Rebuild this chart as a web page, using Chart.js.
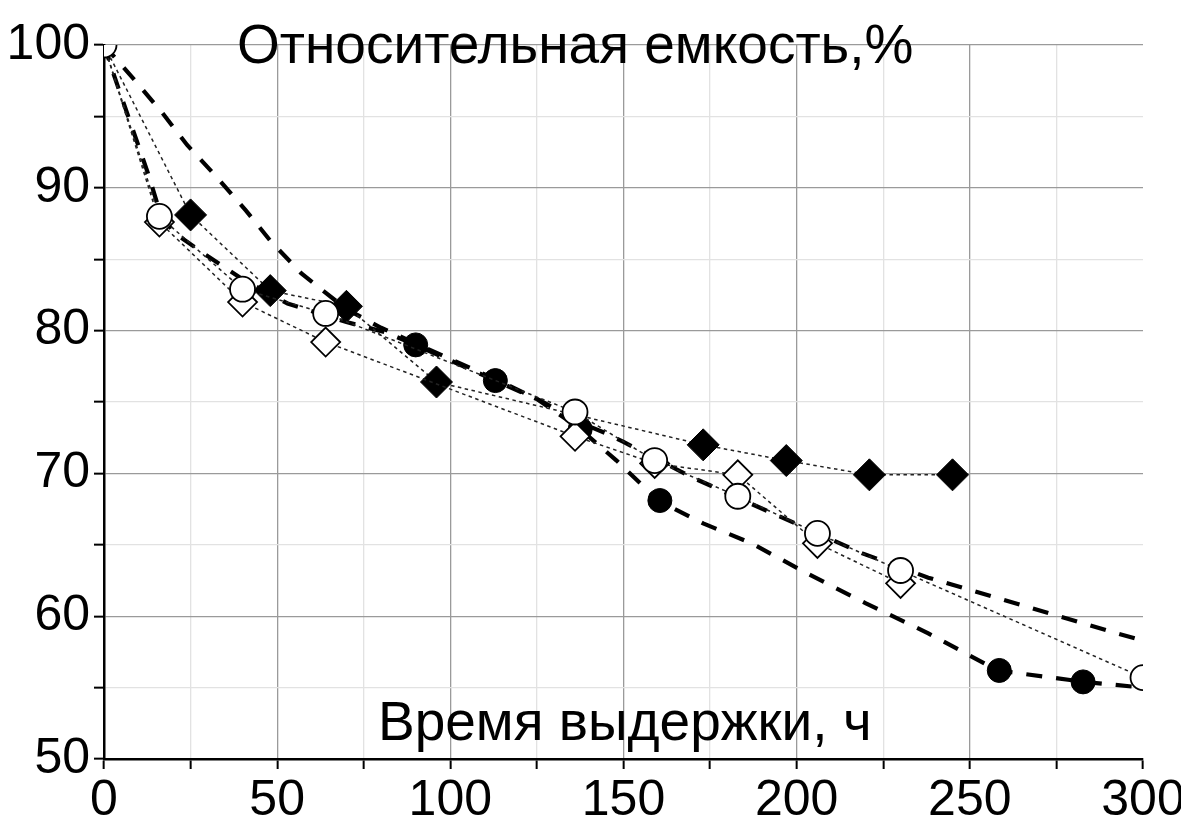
<!DOCTYPE html>
<html>
<head>
<meta charset="utf-8">
<script src="https://cdn.jsdelivr.net/npm/chart.js@4.4.1/dist/chart.umd.min.js"></script>
<style>
  html, body { margin: 0; padding: 0; background: #fff; }
  #wrap { width: 1181px; height: 818px; position: relative; }
</style>
</head>
<body>
<div id="wrap"><canvas id="c" width="1181" height="818"></canvas></div>
<script>
// ---- Data ----
const yTitle = "Относительная емкость,%";
const xTitle = "Время выдержки, ч";

const filledDiamondX = [0, 25, 48, 70, 96, 173, 197, 221, 245];
const filledDiamondY = [100, 88.1, 82.8, 81.7, 76.4, 72.0, 70.9, 69.9, 69.9];

const openCircleX = [0, 16, 40, 64, 136, 159, 183, 206, 230, 300];
const openCircleY = [100, 88.0, 82.9, 81.2, 74.3, 70.9, 68.4, 65.8, 63.2, 55.7];

const openDiamondX = [0, 16, 40, 64, 136, 159, 183, 206, 230];
const openDiamondY = [100, 87.6, 82.0, 79.2, 72.6, 70.7, 69.9, 65.1, 62.3];

const filledCircleX = [90, 113, 137.5, 160.5, 258.5, 282.7];
const filledCircleY = [79.0, 76.5, 73.1, 68.1, 56.2, 55.4];

const fitLowX = [0, 3, 10, 13, 16, 20, 30, 40, 53, 70, 81, 90, 113, 125, 137, 148, 160, 173, 187, 203, 220, 238, 258, 283, 300];
const fitLowY = [100, 97.8, 92.9, 90.8, 88.4, 86.9, 85.2, 83.6, 81.9, 80.6, 79.9, 79.0, 76.5, 75.2, 73.2, 70.9, 68.1, 66.5, 65.1, 63.0, 60.9, 58.8, 56.2, 55.4, 55.0];

const fitHighX = [0, 9, 17, 24, 32, 41, 48, 57, 70, 80, 90, 113, 126, 137, 145, 150, 170, 194, 219, 238, 245, 273, 291, 300];
const fitHighY = [100, 97.5, 95.2, 93.0, 90.9, 88.4, 86.3, 84.0, 81.5, 80.2, 79.1, 76.6, 75.1, 73.6, 72.8, 72.2, 69.7, 67.1, 64.4, 62.7, 62.2, 60.2, 58.9, 58.3];

const xTicksMajor = [0, 50, 100, 150, 200, 250, 300];
const yTicksMajor = [50, 60, 70, 80, 90, 100];

// ---- helpers ----
const pts = (xs, ys) => xs.map((x, i) => ({ x: x, y: ys[i] }));
const FONT = "'Liberation Sans', Arial, sans-serif";

const titlesPlugin = {
  id: 'titles',
  afterDraw(chart) {
    const ctx = chart.ctx;
    ctx.save();
    ctx.fillStyle = '#000';
    ctx.font = "55px " + FONT;
    ctx.textBaseline = 'alphabetic';
    ctx.textAlign = 'left';
    ctx.fillText(yTitle, 237, 63);
    ctx.fillText(xTitle, 378, 740);
    ctx.restore();
  }
};

const dotted = { borderColor: '#222', borderWidth: 1.5, borderDash: [3.5, 3.5] };
const heavy = { borderColor: '#000', borderWidth: 4.2, borderDash: [16, 14], pointRadius: 0 };

const chart = new Chart(document.getElementById('c'), {
  type: 'scatter',
  data: {
    datasets: [
      Object.assign({ label: 'fitLow', data: pts(fitLowX, fitLowY), showLine: true, order: 6 }, heavy),
      Object.assign({ label: 'fitHigh', data: pts(fitHighX, fitHighY), showLine: true, order: 5 }, heavy),
      Object.assign({
        label: 'filledCircle', data: pts(filledCircleX, filledCircleY), showLine: false,
        pointStyle: 'circle', pointRadius: 12, pointBackgroundColor: '#000', pointBorderColor: '#000', order: 4
      }),
      Object.assign({
        label: 'filledDiamond', data: pts(filledDiamondX, filledDiamondY), showLine: true,
        pointStyle: 'rectRot', pointRadius: c => (c.raw && c.raw.x === 0 ? 0 : 16),
        pointBackgroundColor: '#000', pointBorderColor: '#000', pointBorderWidth: 1, order: 3
      }, dotted),
      Object.assign({
        label: 'openDiamond', data: pts(openDiamondX, openDiamondY), showLine: true,
        pointStyle: 'rectRot', pointRadius: c => (c.raw && c.raw.x === 0 ? 0 : 14.5),
        pointBackgroundColor: '#fff', pointBorderColor: '#000', pointBorderWidth: 1.8, order: 2
      }, dotted),
      Object.assign({
        label: 'openCircle', data: pts(openCircleX, openCircleY), showLine: true,
        pointStyle: 'circle', pointRadius: 12.5,
        pointBackgroundColor: '#fff', pointBorderColor: '#000', pointBorderWidth: 1.8, order: 1
      }, dotted)
    ]
  },
  options: {
    responsive: false,
    animation: false,
    clip: 0,
    layout: { padding: { left: 0, top: 45, right: 38, bottom: 0 } },
    plugins: { legend: { display: false }, tooltip: { enabled: false } },
    elements: { line: { tension: 0 }, point: { hoverRadius: 0 } },
    scales: {
      x: {
        type: 'linear', min: 0, max: 300,
        afterFit: s => { s.height = 59; s.paddingRight = 0; s.paddingLeft = 0; },
        ticks: {
          stepSize: 25, autoSkip: false, maxRotation: 0, padding: 2,
          color: '#000', font: { family: FONT, size: 50 },
          callback: v => (xTicksMajor.includes(v) ? String(v) : '')
        },
        grid: {
          color: c => (c.tick && c.tick.value === 300 ? 'rgba(0,0,0,0)' : (c.tick && c.tick.value % 50 === 0 ? '#9a9a9a' : '#e2e2e2')),
          lineWidth: 1.3,
          drawTicks: true, tickLength: 10, tickColor: '#000', tickWidth: 2
        },
        border: { display: true, color: '#000', width: 2.5 }
      },
      y: {
        type: 'linear', min: 50, max: 100,
        afterFit: s => { s.width = 104; s.paddingTop = 0; s.paddingBottom = 0; },
        ticks: {
          stepSize: 5, autoSkip: false, padding: 4,
          color: '#000', font: { family: FONT, size: 50 },
          callback: v => (yTicksMajor.includes(v) ? String(v) : '')
        },
        grid: {
          color: c => (c.tick && c.tick.value % 10 === 0 ? '#9a9a9a' : '#e2e2e2'),
          lineWidth: 1.3,
          drawTicks: true, tickLength: 10, tickColor: '#000', tickWidth: 2
        },
        border: { display: true, color: '#000', width: 2.5 }
      }
    }
  },
  plugins: [titlesPlugin]
});
</script>
</body>
</html>
